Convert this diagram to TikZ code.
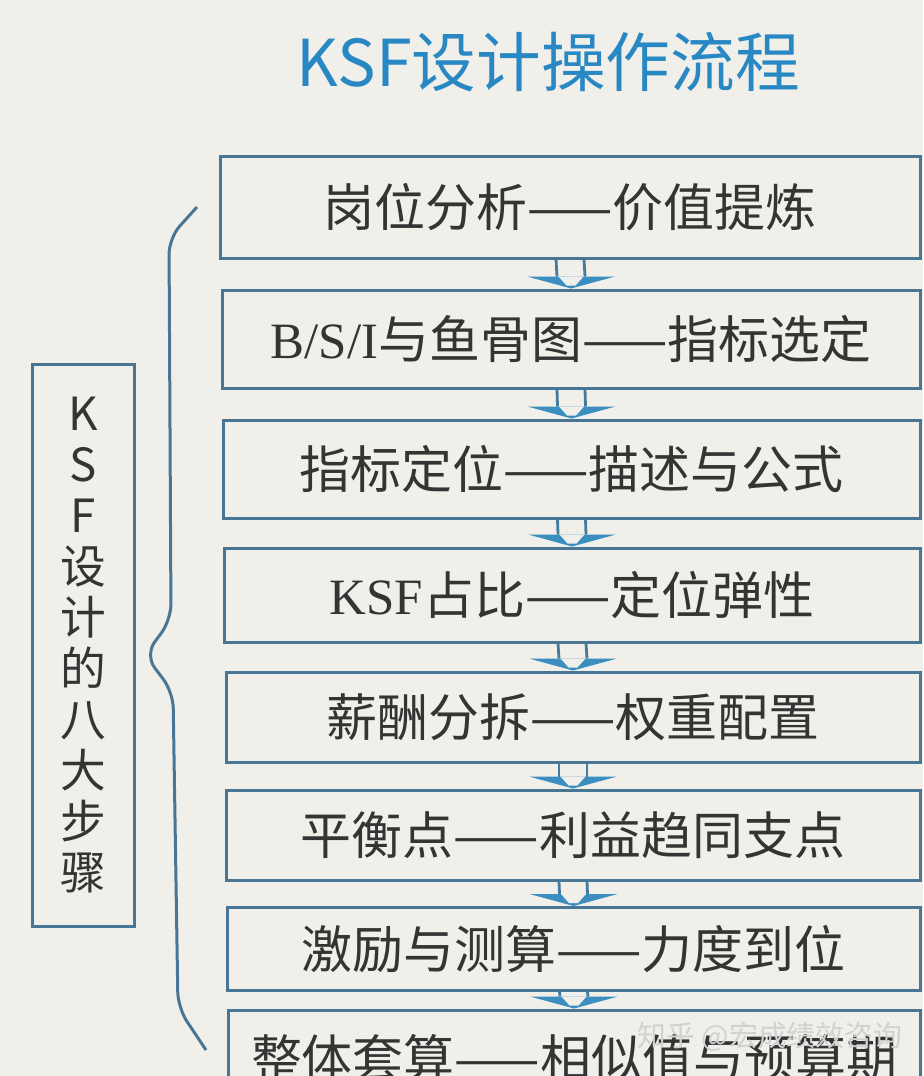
\documentclass[tikz,border=0pt]{standalone}
\usepackage{fontspec}
\setmainfont{Noto Sans CJK SC}
\newfontfamily\latinserif{Liberation Serif}
\usetikzlibrary{calc}

\definecolor{paper}{RGB}{241,239,233}
\definecolor{boxline}{RGB}{72,118,148}
\definecolor{arrowblue}{RGB}{58,142,192}
\definecolor{titleblue}{RGB}{40,136,196}
\definecolor{ink}{RGB}{52,52,52}

\tikzstyle{stepbox} = [draw=boxline, line width=0.3mm, fill=paper, inner sep=0pt, text=ink, font=\fontsize{14.5}{16}\selectfont]
\tikzstyle{frame} = [draw=boxline, line width=0.3mm]
\tikzstyle{shaft} = [draw=boxline!80!arrowblue, line width=0.28mm]

%hollow arrow from one box to the next
\newcommand{\flowarrow}[2]{%
  \fill[paper] ([xshift=-1.4mm]#1.south) rectangle ([xshift=1.4mm,yshift=1.2mm]#2.north);
  \draw[shaft] ([xshift=-1.4mm]#1.south) -- ([xshift=-1.4mm,yshift=1.2mm]#2.north);
  \draw[shaft] ([xshift=1.4mm]#1.south) -- ([xshift=1.4mm,yshift=1.2mm]#2.north);
  \fill[arrowblue] ([xshift=-4.4mm,yshift=1.2mm]#2.north) -- (#2.north) -- ([xshift=4.4mm,yshift=1.2mm]#2.north) -- cycle;
  \fill[paper] ([xshift=-1.25mm,yshift=1.2mm]#2.north) -- ([xshift=-0.45mm,yshift=0.3mm]#2.north) -- ([xshift=0.45mm,yshift=0.3mm]#2.north) -- ([xshift=1.25mm,yshift=1.2mm]#2.north) -- cycle;
}

\begin{document}
\begin{tikzpicture}[x=0.1mm, y=-0.1mm]

%Page
\useasboundingbox (0,0) rectangle (923,1076);
\clip (0,0) rectangle (923,1076);
\fill[paper] (0,0) rectangle (923,1076);

%Title
\node[text=titleblue, font=\fontsize{18.4}{20}\selectfont] (title) at (548,62) {KSF设计操作流程};

%Steps
\node[stepbox, minimum width=70mm, minimum height=10.1mm] (s1) at (570,207.5) {岗位分析——价值提炼};
\node[stepbox, minimum width=69.8mm, minimum height=9.8mm] (s2) at (571,339) {{\latinserif B/S/I}与鱼骨图——指标选定};
\node[stepbox, minimum width=69.7mm, minimum height=9.8mm] (s3) at (571.5,469) {指标定位——描述与公式};
\node[stepbox, minimum width=69.6mm, minimum height=9.4mm] (s4) at (572,595) {{\latinserif KSF}占比——定位弹性};
\node[stepbox, minimum width=69.4mm, minimum height=9.0mm] (s5) at (573,717) {薪酬分拆——权重配置};
\node[stepbox, minimum width=69.4mm, minimum height=9.0mm] (s6) at (573,835) {平衡点——利益趋同支点};
\node[stepbox, minimum width=69.3mm, minimum height=8.3mm] (s7) at (573.5,949) {激励与测算——力度到位};
\node[stepbox, minimum width=69.2mm, minimum height=9.6mm] (s8) at (574,1058) {整体套算——相似值与预算期};

%Arrows
\flowarrow{s1}{s2}
\flowarrow{s2}{s3}
\flowarrow{s3}{s4}
\flowarrow{s4}{s5}
\flowarrow{s5}{s6}
\flowarrow{s6}{s7}
\flowarrow{s7}{s8}

%Side label
\node[frame, minimum width=10.2mm, minimum height=56.2mm, inner sep=0pt, align=center, text=ink, font=\fontsize{13}{14.5}\selectfont] (steps) at (83,645) {K\\S\\F\\设\\计\\的\\八\\大\\步\\骤};

%Brace
\draw[frame, rounded corners=1.6mm] (197,207) -- (169,238) -- (171,620) -- (145,655) -- (173,692) -- (178,1008) -- (206,1050);

%Watermark
\node[text=white!82!black, font=\fontsize{8.2}{9}\selectfont] (mark) at (770,1037) {知乎 @宏成绩效咨询};

\end{tikzpicture}
\end{document}
